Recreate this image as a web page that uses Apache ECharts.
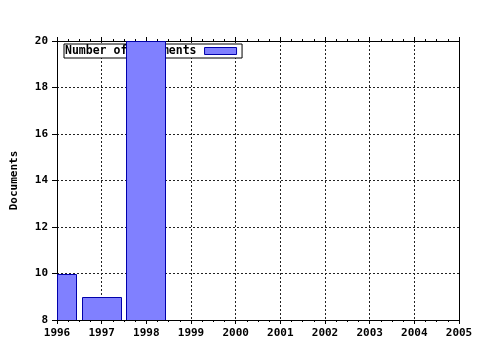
<!DOCTYPE html>
<html><head><meta charset="utf-8">
<script src="https://cdn.jsdelivr.net/npm/echarts@6/dist/echarts.min.js"></script>
<style>html,body{margin:0;padding:0;background:#fff}#c{width:480px;height:350px}</style>
</head><body><div id="c"></div>
<script>
var years = [1996, 1997, 1998];
var documents = [10, 9, 20];
var seriesName = 'Number of Documents';
var yAxisName = 'Documents';

var font = 'DejaVu Sans Mono';
var chart = echarts.init(document.getElementById('c'), null, {renderer: 'canvas'});
var data = years.map(function (y, i) { return [y, documents[i]]; });
var lbl = {fontFamily: font, fontWeight: 'bold', fontSize: 11, color: '#000'};
var BAR_W = 40;
function renderBar(params, api) {
  var x = api.value(0), v = api.value(1);
  var top = api.coord([x, v]);
  var base = api.coord([x, 0]);
  var cs = params.coordSys;
  var rect = echarts.graphic.clipRectByRect(
    {x: top[0] - BAR_W / 2, y: top[1], width: BAR_W, height: base[1] - top[1]},
    {x: cs.x, y: cs.y, width: cs.width, height: cs.height}
  );
  if (!rect) return null;
  return {
    type: 'rect',
    shape: {x: Math.round(rect.x) + 0.5, y: Math.round(rect.y) + 0.5, width: Math.round(rect.width) - 1, height: Math.round(rect.height)},
    style: {fill: '#8080ff', stroke: '#0000aa', lineWidth: 1}
  };
}
chart.setOption({
  animation: false,
  backgroundColor: '#fff',
  grid: {left: 57, top: 41, width: 402, height: 279, containLabel: false, outerBoundsMode: 'none'},
  legend: {
    left: 64, top: 44, z: 1,
    data: [seriesName],
    icon: 'rect', itemWidth: 32, itemHeight: 7,
    align: 'right',
    backgroundColor: '#fff', borderColor: '#000', borderWidth: 1, borderRadius: 0,
    padding: [1, 5, 1, 1],
    itemStyle: {color: '#8080ff', borderColor: '#0000aa', borderWidth: 1},
    textStyle: {fontFamily: font, fontWeight: 'bold', fontSize: 11.5, color: '#000', padding: [0, 3, 0, 0]}
  },
  xAxis: [{
    type: 'value', position: 'bottom', min: 1996, max: 2005, interval: 1,
    axisLine: {show: true, lineStyle: {color: '#000', width: 1}},
    axisTick: {show: true, length: 4, lineStyle: {color: '#000'}},
    minorTick: {show: true, splitNumber: 4, length: 2, lineStyle: {color: '#000'}},
    axisLabel: Object.assign({margin: 8, formatter: function (v) { return String(v); }}, lbl),
    splitLine: {show: true, lineStyle: {color: '#222', type: [2, 2], width: 1}}
  }, {
    type: 'value', position: 'top', min: 1996, max: 2005, interval: 1,
    axisLine: {show: true, lineStyle: {color: '#000', width: 1}},
    axisTick: {show: true, length: 4, lineStyle: {color: '#000'}},
    minorTick: {show: true, splitNumber: 4, length: 2, lineStyle: {color: '#000'}},
    axisLabel: {show: false},
    splitLine: {show: false}
  }],
  yAxis: [{
    type: 'value', position: 'left', min: 8, max: 20, interval: 2,
    name: yAxisName, nameLocation: 'middle', nameGap: 37, nameRotate: 90,
    nameTextStyle: {fontFamily: font, fontWeight: 'bold', fontSize: 11, color: '#000'},
    axisLine: {show: true, lineStyle: {color: '#000', width: 1}},
    axisTick: {show: true, length: 5, lineStyle: {color: '#000'}},
    axisLabel: Object.assign({margin: 9}, lbl),
    splitLine: {show: true, lineStyle: {color: '#222', type: [2, 2], width: 1}}
  }, {
    type: 'value', position: 'right', min: 8, max: 20, interval: 2,
    axisLine: {show: true, lineStyle: {color: '#000', width: 1}},
    axisTick: {show: false}, axisLabel: {show: false}, splitLine: {show: false}
  }],
  series: [{
    name: seriesName, type: 'custom', z: 3, xAxisIndex: 0, yAxisIndex: 0,
    data: data, renderItem: renderBar, clip: true,
    itemStyle: {color: '#8080ff', borderColor: '#0000aa', borderWidth: 1}
  }]
});
</script></body></html>
